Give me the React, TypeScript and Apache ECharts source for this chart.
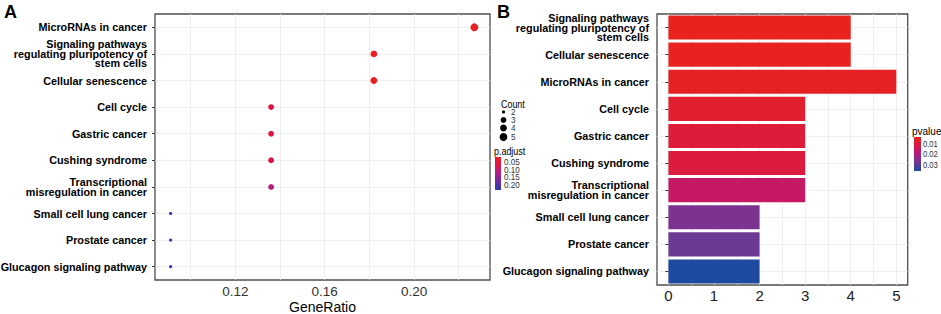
import React, { useEffect, useRef } from "react";
import * as echarts from "echarts";

// ---------- data ----------
const dotTerms = [
  "MicroRNAs in cancer",
  "Signaling pathways\nregulating pluripotency of\nstem cells",
  "Cellular senescence",
  "Cell cycle",
  "Gastric cancer",
  "Cushing syndrome",
  "Transcriptional\nmisregulation in cancer",
  "Small cell lung cancer",
  "Prostate cancer",
  "Glucagon signaling pathway",
];
const dotGeneRatio = [0.227, 0.182, 0.182, 0.136, 0.136, 0.136, 0.136, 0.091, 0.091, 0.091];
const dotCount = [5, 4, 4, 3, 3, 3, 3, 2, 2, 2];
const dotPAdjust = [0.017, 0.02, 0.02, 0.07, 0.07, 0.07, 0.114, 0.22, 0.22, 0.233];

const barTerms = [
  "Signaling pathways\nregulating pluripotency of\nstem cells",
  "Cellular senescence",
  "MicroRNAs in cancer",
  "Cell cycle",
  "Gastric cancer",
  "Cushing syndrome",
  "Transcriptional\nmisregulation in cancer",
  "Small cell lung cancer",
  "Prostate cancer",
  "Glucagon signaling pathway",
];
const barCount = [4, 4, 5, 3, 3, 3, 3, 2, 2, 2];
const barPValue = [0.0032, 0.0034, 0.0045, 0.0065, 0.009, 0.0095, 0.0153, 0.026, 0.028, 0.0358];

const geneRatioTicks = [0.12, 0.16, 0.2];
const countAxisTicks = [0, 1, 2, 3, 4, 5];
const countLegend = [2, 3, 4, 5];
const pAdjustTicks = [0.05, 0.1, 0.15, 0.2];
const pValueTicks = [0.01, 0.02, 0.03];

// ---------- styles ----------
const FONT = "'Liberation Sans', Arial, Helvetica, sans-serif";
const leftPalette = ["#EC1F22", "#DE1448", "#B01E8A", "#6A2DA0", "#2A3CB0"];
const rightPalette = ["#E8221D", "#D81A48", "#B01A80", "#6F3893", "#1E4BA0"];
const GRID_C = "#ebebeb";
const FRAME_C = "#4d4d4d";

const sizeOf = (c: number) => ({ 2: 3.2, 3: 5.8, 4: 6.8, 5: 7.8 } as any)[c] || 4;

const pAdjMin = Math.min(...dotPAdjust);
const pAdjMax = Math.max(...dotPAdjust);
const pValMin = Math.min(...barPValue);
const pValMax = Math.max(...barPValue);

const catLabel = {
  fontFamily: FONT,
  fontWeight: "bold" as const,
  fontSize: 10.8,
  lineHeight: 9.5,
  color: "#000",
  margin: 8,
  align: "right" as const,
};

export default function App() {
  const ref = useRef<HTMLDivElement>(null);
  useEffect(() => {
    const chart = echarts.init(ref.current!, null, { renderer: "svg" });

    const grad = (pal: string[]) =>
      new echarts.graphic.LinearGradient(
        0, 0, 0, 1,
        pal.map((c, i) => ({ offset: i / (pal.length - 1), color: c }))
      );

    const cbL = { x: 495, y0: 157, y1: 190 };
    const cbR = { x: 914, y0: 137, y1: 171 };
    const legendY = [112, 120, 128, 137];

    const graphics: any[] = [
      { type: "text", x: 4, y: 12, style: { text: "A", font: `bold 18px ${FONT}`, fill: "#000", textVerticalAlign: "middle" } },
      { type: "text", x: 497, y: 12, style: { text: "B", font: `bold 18px ${FONT}`, fill: "#000", textVerticalAlign: "middle" } },
      { type: "text", x: 322.5, y: 306.5, style: { text: "GeneRatio", font: `14px ${FONT}`, fill: "#000", textAlign: "center", textVerticalAlign: "middle" } },
      { type: "text", x: 501, y: 104, scaleX: 0.85, style: { text: "Count", font: `10.5px ${FONT}`, fill: "#000", textVerticalAlign: "middle" } },
      ...countLegend.flatMap((c, i) => [
        { type: "circle", shape: { cx: 503.5, cy: legendY[i], r: sizeOf(c) / 2 }, style: { fill: "#000" } },
        { type: "text", x: 511, y: legendY[i], scaleX: 0.9, style: { text: String(c), font: `9px ${FONT}`, fill: "#333", textVerticalAlign: "middle" } },
      ]),
      { type: "text", x: 494, y: 151, scaleX: 0.85, style: { text: "p.adjust", font: `10.5px ${FONT}`, fill: "#000", textVerticalAlign: "middle" } },
      { type: "rect", shape: { x: cbL.x, y: cbL.y0, width: 6, height: cbL.y1 - cbL.y0 }, style: { fill: grad(leftPalette) } },
      ...pAdjustTicks.map((v) => ({
        type: "text",
        x: 504,
        y: cbL.y0 + ((v - pAdjMin) / (pAdjMax - pAdjMin)) * (cbL.y1 - cbL.y0),
        scaleX: 0.9,
        style: { text: v.toFixed(2), font: `9px ${FONT}`, fill: "#333", textVerticalAlign: "middle" },
      })),
      { type: "text", x: 912, y: 131, style: { text: "pvalue", font: `10px ${FONT}`, fill: "#000", textVerticalAlign: "middle" } },
      { type: "rect", shape: { x: cbR.x, y: cbR.y0, width: 7, height: cbR.y1 - cbR.y0 }, style: { fill: grad(rightPalette) } },
      ...pValueTicks.map((v) => ({
        type: "text",
        x: 923,
        y: cbR.y0 + ((v - pValMin) / (pValMax - pValMin)) * (cbR.y1 - cbR.y0),
        scaleX: 0.9,
        style: { text: v.toFixed(2), font: `8.5px ${FONT}`, fill: "#333", textVerticalAlign: "middle" },
      })),
    ];

    const option: any = {
      animation: false,
      backgroundColor: "#fff",
      textStyle: { fontFamily: FONT },
      grid: [
        { left: 155, top: 14, width: 335, height: 266, show: true, borderColor: FRAME_C, borderWidth: 1.3, backgroundColor: "transparent", containLabel: false, outerBoundsMode: "none" },
        { left: 657, top: 14, width: 250.7, height: 271, show: true, borderColor: FRAME_C, borderWidth: 1.3, backgroundColor: "transparent", containLabel: false, outerBoundsMode: "none" },
      ],
      xAxis: [
        {
          type: "value",
          gridIndex: 0,
          min: 0.084,
          max: 0.234,
          interval: 0.004,
          axisLine: { show: false },
          axisTick: { show: false },
          axisLabel: {
            color: "#333",
            fontSize: 13.5,
            margin: 4,
            fontFamily: FONT,
            formatter: (v: number) => (geneRatioTicks.some((t) => Math.abs(t - v) < 1e-6) ? v.toFixed(2) : ""),
          },
          splitLine: { show: true, lineStyle: { color: ["rgba(0,0,0,0)", "rgba(0,0,0,0)", "rgba(0,0,0,0)", "rgba(0,0,0,0)", GRID_C], width: 0.8 } },
        },
        {
          type: "value",
          gridIndex: 1,
          min: -0.25,
          max: 5.25,
          interval: 0.25,
          axisLine: { show: false },
          axisTick: { show: false },
          axisLabel: {
            color: "#222",
            fontSize: 15,
            margin: 3,
            fontFamily: FONT,
            formatter: (v: number) => (countAxisTicks.some((t) => Math.abs(t - v) < 1e-6) ? String(Math.round(v)) : ""),
          },
          splitLine: { show: true, lineStyle: { color: ["rgba(0,0,0,0)", GRID_C], width: 0.8 } },
        },
      ],
      yAxis: [
        {
          type: "category",
          gridIndex: 0,
          data: dotTerms,
          inverse: true,
          axisLine: { show: false },
          axisTick: { show: true, alignWithLabel: true, length: 3, lineStyle: { color: "#333" } },
          axisLabel: catLabel,
          splitLine: { show: true, alignWithLabel: true, lineStyle: { color: GRID_C, width: 0.8 } },
        },
        {
          type: "category",
          gridIndex: 1,
          data: barTerms,
          inverse: true,
          axisLine: { show: false },
          axisTick: { show: true, alignWithLabel: true, length: 3, lineStyle: { color: "#333" } },
          axisLabel: catLabel,
          splitLine: { show: true, alignWithLabel: true, lineStyle: { color: GRID_C, width: 0.8 } },
        },
      ],
      visualMap: [
        {
          type: "continuous",
          show: false,
          seriesIndex: 0,
          dimension: 3,
          min: pAdjMin,
          max: pAdjMax,
          inRange: { color: leftPalette },
        },
        {
          type: "continuous",
          show: false,
          seriesIndex: 1,
          dimension: 2,
          min: pValMin,
          max: pValMax,
          inRange: { color: rightPalette },
        },
      ],
      series: [
        {
          type: "scatter",
          xAxisIndex: 0,
          yAxisIndex: 0,
          data: dotTerms.map((_, i) => [dotGeneRatio[i], i, dotCount[i], dotPAdjust[i]]),
          encode: { x: 0, y: 1 },
          symbolSize: (val: number[]) => sizeOf(val[2]),
          itemStyle: { opacity: 1 },
        },
        {
          type: "bar",
          xAxisIndex: 1,
          yAxisIndex: 1,
          data: barTerms.map((_, i) => [barCount[i], i, barPValue[i]]),
          encode: { x: 0, y: 1 },
          barCategoryGap: "11%",
          itemStyle: { opacity: 1 },
        },
      ],
      graphic: graphics,
    };

    chart.setOption(option);
    return () => chart.dispose();
  }, []);

  return (
    <div style={{ position: "fixed", left: 0, top: 0, width: 941, height: 314, background: "#fff" }}>
      <div ref={ref} style={{ width: 941, height: 314 }} />
    </div>
  );
}
